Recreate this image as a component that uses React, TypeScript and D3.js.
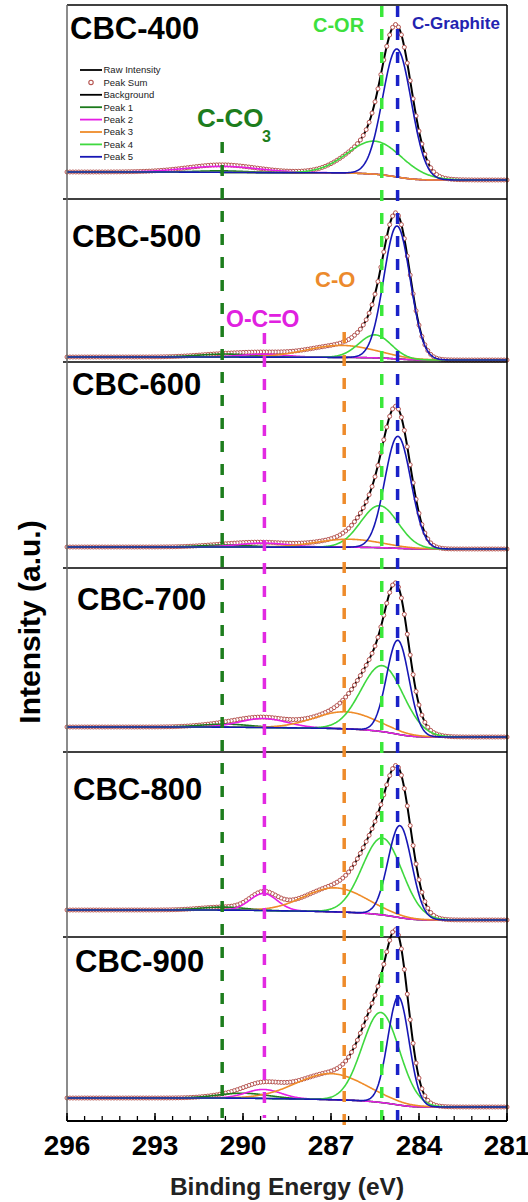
import React from 'react';
import * as d3 from 'd3';

const W = 528;
const H = 1202;
const PLOT_LEFT = 67;
const PLOT_RIGHT = 507;
const PANEL_TOPS = [5, 199, 362, 568, 752, 937];
const PLOT_BOTTOM = 1121;

const sampleNames = ['CBC-400', 'CBC-500', 'CBC-600', 'CBC-700', 'CBC-800', 'CBC-900'];

// Shirley background end levels (a.u.): high binding-energy side and low side
const bgHigh = [27, 5, 21, 25, 27, 23];
const bgLow = [19, 2, 19, 15, 17, 14];

// Fitted components per sample: [centre (eV), FWHM (eV), height (a.u.)]
const peak1 = [[290.7, 2.0, 1.5], [290.6, 2.2, 3], [290.6, 2.0, 2], [290.6, 2.0, 3], [290.7, 1.8, 3], [290.0, 2.0, 5]];
const peak2 = [[290.7, 3.0, 6], [289.3, 1.8, 3], [289.3, 2.0, 4], [289.3, 1.9, 9], [289.3, 1.1, 17], [289.3, 1.4, 9]];
const peak3 = [[286.6, 2.5, 0], [286.65, 2.8, 12], [286.4, 2.6, 8], [286.5, 2.5, 17], [286.85, 2.5, 24], [287.0, 2.8, 26]];
const peak4 = [[285.5, 2.2, 33], [285.5, 1.3, 23], [285.35, 1.5, 42], [285.25, 1.7, 66], [285.25, 1.6, 77], [285.3, 1.5, 90]];
const peak5 = [[284.75, 1.15, 128], [284.75, 1.06, 133], [284.72, 1.05, 112], [284.72, 0.9, 94], [284.65, 0.95, 92], [284.7, 0.85, 108]];

const xTicks = [296, 293, 290, 287, 284, 281];

// Assignment guides
const guideEnergies = [290.71, 289.27, 286.55, 285.27, 284.73];
const guideColors = ['#1d7d1d', '#e22ae2', '#ee8b2b', '#3ae83a', '#1a22c8'];
const guideStartY = [142, 333, 332, 6, 6];
const guideEndY = [1118, 1118, 1136, 1120, 1120];

const peakColors = ['#1c7a1c', '#e51ee5', '#ef8c2a', '#3fd83f', '#1717b5'];
const legendLabels = ['Raw Intensity', 'Peak Sum', 'Background', 'Peak 1', 'Peak 2', 'Peak 3', 'Peak 4', 'Peak 5'];

const FONT = "'Liberation Sans', Arial, Helvetica, sans-serif";

const gaussian = (x: number, p: number[]) =>
  p[2] * Math.exp((-4 * Math.LN2 * (x - p[0]) * (x - p[0])) / (p[1] * p[1]));

const energyGrid = d3.range(0, 751).map((i) => 281 + i * 0.02);

function buildPanel(k: number) {
  const comps = [peak1[k], peak2[k], peak3[k], peak4[k], peak5[k]];
  const comp = comps.map((p) => energyGrid.map((e) => gaussian(e, p)));
  const total = energyGrid.map((_, i) => comp.reduce((s, c) => s + c[i], 0));
  const cum: number[] = [];
  let acc = 0;
  total.forEach((v, i) => {
    acc += v;
    cum[i] = acc;
  });
  const bg = energyGrid.map((_, i) => bgLow[k] + (bgHigh[k] - bgLow[k]) * (cum[i] / acc));
  const sum = energyGrid.map((_, i) => bg[i] + total[i]);
  const peaks = comp.map((c) => c.map((v, i) => bg[i] + v));
  return { bg, sum, peaks };
}

export default function App() {
  const x = d3.scaleLinear().domain([296, 281]).range([PLOT_LEFT, PLOT_RIGHT]);
  const bottoms = PANEL_TOPS.map((t, i) => (i < PANEL_TOPS.length - 1 ? PANEL_TOPS[i + 1] : PLOT_BOTTOM));
  const minorTicks = d3.range(0, 26).map((i) => 296 - i * 0.6);

  return (
    <svg
      width={W}
      height={H}
      style={{ position: 'absolute', left: 0, top: 0, background: '#fff' }}
      fontFamily={FONT}
    >
      <rect x={0} y={0} width={W} height={H} fill="#fff" />
      {PANEL_TOPS.map((top, k) => {
        const bottom = bottoms[k];
        const y = d3.scaleLinear().domain([0, bottom - top]).range([bottom, top]);
        const d = buildPanel(k);
        const line = d3
          .line<number>()
          .x((_, i) => x(energyGrid[i]))
          .y((v) => y(v))
          .curve(d3.curveLinear);
        const circleIdx = energyGrid.map((_, i) => i).filter((i) => i % 5 === 0);
        return (
          <g key={k}>
            <path d={line(d.sum) || ''} fill="none" stroke="#000" strokeWidth={2} />
            {circleIdx.map((i) => (
              <circle key={i} cx={x(energyGrid[i])} cy={y(d.sum[i])} r={2} fill="#fff" stroke="#b5534f" strokeWidth={1} />
            ))}
            <path d={line(d.bg) || ''} fill="none" stroke="#000" strokeWidth={1.2} />
            {d.peaks.map((p, j) => (
              <path key={j} d={line(p) || ''} fill="none" stroke={peakColors[j]} strokeWidth={1.6} />
            ))}
            {k > 0 && <line x1={PLOT_LEFT - 4} x2={PLOT_RIGHT} y1={top} y2={top} stroke="#000" strokeWidth={1.5} />}
          </g>
        );
      })}

      {/* assignment guides */}
      {guideEnergies.map((e, i) => (
        <line
          key={i}
          x1={x(e)}
          x2={x(e)}
          y1={guideStartY[i]}
          y2={guideEndY[i]}
          stroke={guideColors[i]}
          strokeWidth={3.5}
          strokeDasharray="11 12"
        />
      ))}

      {/* frame */}
      <line x1={PLOT_LEFT} x2={PLOT_RIGHT} y1={PANEL_TOPS[0]} y2={PANEL_TOPS[0]} stroke="#000" strokeWidth={1.5} />
      <line x1={PLOT_RIGHT} x2={PLOT_RIGHT} y1={PANEL_TOPS[0]} y2={PLOT_BOTTOM} stroke="#000" strokeWidth={1.5} />
      <line x1={PLOT_LEFT} x2={PLOT_LEFT} y1={PANEL_TOPS[0]} y2={PLOT_BOTTOM} stroke="#666" strokeWidth={1.5} />
      <line x1={PLOT_LEFT} x2={PLOT_RIGHT} y1={PLOT_BOTTOM} y2={PLOT_BOTTOM} stroke="#000" strokeWidth={1.8} />

      {/* x axis ticks */}
      {minorTicks.map((t, i) => (
        <line key={i} x1={x(t)} x2={x(t)} y1={PLOT_BOTTOM} y2={PLOT_BOTTOM - 5} stroke="#000" strokeWidth={1.3} />
      ))}
      {xTicks.map((t) => (
        <g key={t}>
          <line x1={x(t)} x2={x(t)} y1={PLOT_BOTTOM} y2={PLOT_BOTTOM - 8} stroke="#000" strokeWidth={1.5} />
          <text x={x(t)} y={1155} textAnchor="middle" fontSize={28} fontWeight="bold" fill="#000">
            {t}
          </text>
        </g>
      ))}
      <text x={287} y={1195} textAnchor="middle" fontSize={24.5} fontWeight="bold" fill="#222">
        Binding Energy (eV)
      </text>
      <text
        transform="translate(40,622) rotate(-90)"
        textAnchor="middle"
        fontSize={30}
        fontWeight="bold"
        fill="#000"
      >
        Intensity (a.u.)
      </text>

      {/* sample names */}
      {sampleNames.map((n, k) => (
        <text key={n} x={[70, 72, 72, 77, 73, 75][k]} y={[39, 247, 395, 610, 800, 972][k]} fontSize={31} fontWeight="bold" fill="#000">
          {n}
        </text>
      ))}

      {/* assignment labels */}
      <text x={197} y={127} fontSize={26} fontWeight="bold" fill={guideColors[0]}>C-CO</text>
      <text x={262} y={142} fontSize={16} fontWeight="bold" fill={guideColors[0]}>3</text>
      <text x={313} y={32} fontSize={20} fontWeight="bold" fill="#3de03d">C-OR</text>
      <text x={412} y={29} fontSize={17} fontWeight="bold" fill="#2323b0">C-Graphite</text>
      <text x={315} y={287} fontSize={22} fontWeight="bold" fill="#ec8a2c">C-O</text>
      <text x={226} y={327} fontSize={23} fontWeight="bold" fill="#e020e0">O-C=O</text>

      {/* legend */}
      {legendLabels.map((lab, i) => {
        const ly = 70 + i * 12.4;
        const color = i < 3 ? '#000' : peakColors[i - 3];
        return (
          <g key={lab}>
            {i === 1 ? (
              <circle cx={91} cy={ly} r={2.2} fill="#fff" stroke="#b5534f" strokeWidth={1.1} />
            ) : (
              <line x1={80} x2={102} y1={ly} y2={ly} stroke={color} strokeWidth={1.8} />
            )}
            <text x={103.5} y={ly + 3.4} fontSize={9.5} fill="#222">
              {lab}
            </text>
          </g>
        );
      })}
    </svg>
  );
}
